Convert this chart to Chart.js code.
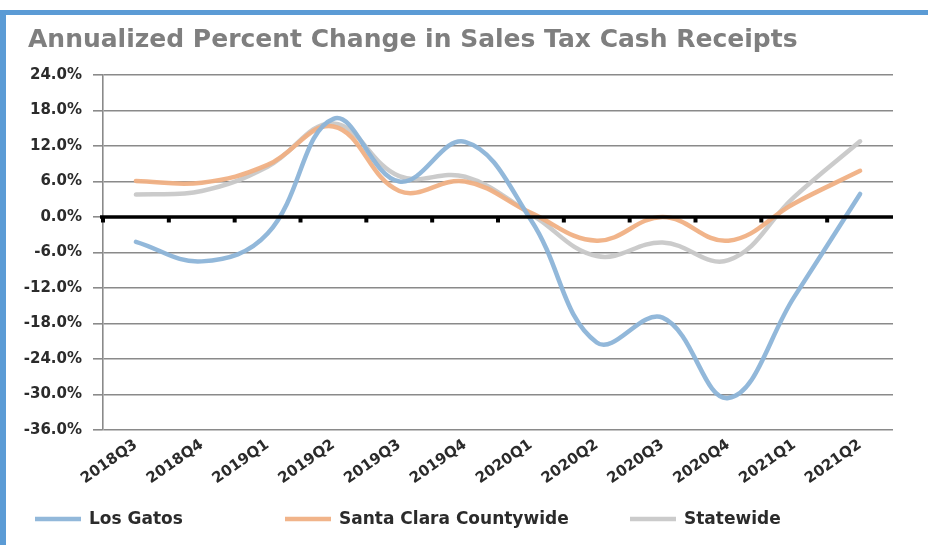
<!DOCTYPE html>
<html><head><meta charset="utf-8">
<script src="https://cdn.jsdelivr.net/npm/chart.js@4.4.1/dist/chart.umd.min.js"></script>
<style>
html,body{margin:0;padding:0;background:#fff;}
#wrap{position:relative;width:928px;height:545px;overflow:hidden;background:#fff;}
canvas{position:absolute;left:0;top:0;}
.bt{position:absolute;left:0;top:10px;width:928px;height:5px;background:#5b9bd5;}
.bl{position:absolute;left:0;top:10px;width:6px;height:535px;background:#5b9bd5;}
</style></head><body>
<div id="wrap"><canvas id="c" width="928" height="545"></canvas><div class="bt"></div><div class="bl"></div></div>
<script>
const titleText = 'Annualized Percent Change in Sales Tax Cash Receipts';
const categories = ['2018Q3','2018Q4','2019Q1','2019Q2','2019Q3','2019Q4','2020Q1','2020Q2','2020Q3','2020Q4','2021Q1','2021Q2'];
const losGatos   = [-4.2, -7.5, -2.8, 16.6, 6.0, 12.7, -0.5, -21.2, -17.0, -30.6, -13.5, 3.9];
const santaClara = [6.1, 5.8, 8.8, 15.3, 4.4, 6.0, 0.7, -4.0, 0.0, -4.0, 2.3, 7.8];
const statewide  = [3.8, 4.4, 8.5, 15.8, 6.9, 6.8, 0.5, -6.6, -4.3, -7.3, 3.4, 12.8];
const seriesNames = ['Los Gatos', 'Santa Clara Countywide', 'Statewide'];
const yMin = -36, yMax = 24, yStep = 6;

const colors = ['rgba(140,180,216,0.95)', 'rgba(240,176,132,0.95)', 'rgba(200,200,200,0.95)'];
const FONT = '"DejaVu Sans", sans-serif';

const titlePlugin = {
  id: 'leftTitle',
  afterDraw(chart) {
    const {ctx} = chart;
    ctx.save();
    ctx.font = 'bold 25px ' + FONT;
    ctx.fillStyle = '#7f7f7f';
    ctx.textAlign = 'left';
    ctx.textBaseline = 'middle';
    ctx.fillText(titleText, 28, 40);
    ctx.restore();
  }
};

const zeroLinePlugin = {
  id: 'zeroLine',
  afterDatasetsDraw(chart) {
    const {ctx} = chart;
    const xs = chart.scales.x, ys = chart.scales.y;
    const y0 = ys.getPixelForValue(0);
    ctx.save();
    ctx.strokeStyle = '#000';
    ctx.lineWidth = 3.5;
    ctx.beginPath();
    ctx.moveTo(xs.left - 3, y0);
    ctx.lineTo(xs.right, y0);
    ctx.stroke();
    ctx.fillStyle = '#000';
    const n = chart.data.labels.length;
    for (let i = 0; i < n; i++) {
      const x = xs.left + i * xs.width / n;
      ctx.fillRect(x - 2, y0, 4, 5.5);
    }
    ctx.restore();
  }
};

const legendPlugin = {
  id: 'customLegend',
  afterDraw(chart) {
    const {ctx} = chart;
    const boxX = [35, 285, 630];
    const y = 519;
    ctx.save();
    ctx.font = 'bold 17px ' + FONT;
    ctx.textBaseline = 'middle';
    ctx.textAlign = 'left';
    chart.data.datasets.forEach((ds, i) => {
      ctx.strokeStyle = ds.borderColor;
      ctx.lineWidth = 4.5;
      ctx.beginPath();
      ctx.moveTo(boxX[i], y);
      ctx.lineTo(boxX[i] + 46, y);
      ctx.stroke();
      ctx.fillStyle = '#2b2b2b';
      ctx.fillText(ds.label, boxX[i] + 54, y + 1);
    });
    ctx.restore();
  }
};

new Chart(document.getElementById('c'), {
  type: 'line',
  data: {
    labels: categories,
    datasets: [
      {label: seriesNames[0], data: losGatos, borderColor: colors[0]},
      {label: seriesNames[1], data: santaClara, borderColor: colors[1]},
      {label: seriesNames[2], data: statewide, borderColor: colors[2]}
    ].map(d => Object.assign(d, {borderWidth: 4.5, pointRadius: 0, tension: 0.4, fill: false, borderCapStyle: 'round'}))
  },
  options: {
    responsive: false,
    animation: false,
    devicePixelRatio: 1,
    layout: {padding: {left: 8, right: 35, top: 75, bottom: 0}},
    plugins: {
      legend: {display: false},
      tooltip: {enabled: false},
      title: {display: false}
    },
    scales: {
      x: {
        offset: true,
        grid: {display: false, drawTicks: false},
        border: {display: false},
        ticks: {
          autoSkip: false, minRotation: 35, maxRotation: 35,
          color: '#2b2b2b', padding: 6,
          font: {family: FONT, size: 15, weight: 'bold'}
        },
        afterFit(s) { s.height = 115; }
      },
      y: {
        min: yMin, max: yMax,
        grid: {
          color: ctx => ctx.tick && ctx.tick.value === 0 ? '#000' : '#8a8a8a',
          lineWidth: 1.6,
          tickLength: 10,
          tickColor: '#8a8a8a'
        },
        border: {display: true, color: '#8a8a8a', width: 1.6},
        ticks: {
          stepSize: yStep,
          color: '#2b2b2b', padding: 11,
          font: {family: FONT, size: 15, weight: 'bold'},
          callback: v => v.toFixed(1) + '%'
        },
        afterFit(s) { s.width = 95; }
      }
    }
  },
  plugins: [zeroLinePlugin, legendPlugin, titlePlugin]
});
</script>
</body></html>
